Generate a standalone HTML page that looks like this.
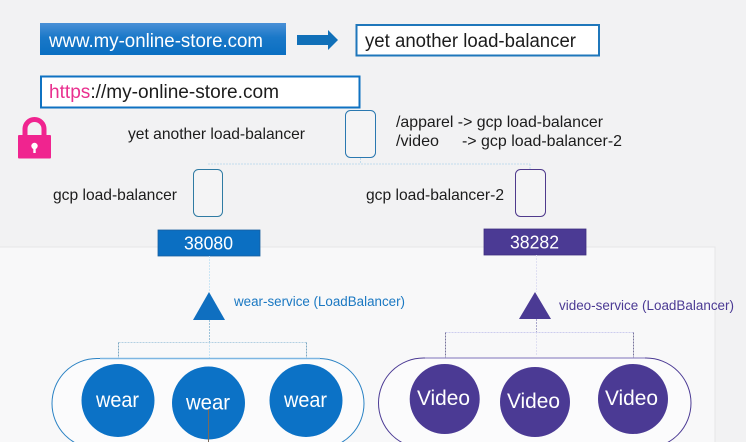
<!DOCTYPE html>
<html>
<head>
<meta charset="utf-8">
<style>
html,body{margin:0;padding:0;background:#f2f2f3;width:746px;height:442px;overflow:hidden}
svg{display:block;filter:blur(0.3px)}
text{font-family:"Liberation Sans",sans-serif;fill:#1c1c1c}
</style>
</head>
<body>
<svg width="746" height="442" viewBox="0 0 746 442" xmlns="http://www.w3.org/2000/svg">
<defs>
<linearGradient id="bn" x1="0" y1="0" x2="0" y2="1"><stop offset="0" stop-color="#4a90d6"/><stop offset="0.45" stop-color="#1a78c8"/><stop offset="1" stop-color="#0a6fc2"/></linearGradient>
</defs>
<rect width="746" height="442" fill="#f2f2f3"/>
<!-- panel -->
<rect x="-2" y="247" width="717" height="200" fill="#f8f8f9" stroke="#e6e6e7" stroke-width="1"/>

<!-- top row -->
<rect x="40" y="23" width="246" height="32" fill="url(#bn)"/>
<text x="49" y="47" font-size="19" textLength="214" lengthAdjust="spacingAndGlyphs" style="fill:#fff">www.my-online-store.com</text>
<polygon points="297,35 328,35 328,30 338,40 328,50 328,45 297,45" fill="#1170b8"/>
<rect x="356.500" y="25" width="242.500" height="30.500" fill="#fff" stroke="#1f77bb" stroke-width="2"/>
<text x="365" y="47" font-size="19" textLength="211" lengthAdjust="spacingAndGlyphs">yet another load-balancer</text>

<!-- https -->
<rect x="41" y="76.500" width="318.500" height="31" fill="#fff" stroke="#0f72c2" stroke-width="2"/>
<text x="49" y="98" font-size="19" textLength="230" lengthAdjust="spacingAndGlyphs"><tspan style="fill:#e9308f">https</tspan>://my-online-store.com</text>

<!-- lock -->
<path d="M25 136 V129 A9.500 9.500 0 0 1 44 129 V136" fill="none" stroke="#f0248f" stroke-width="5"/>
<rect x="18" y="135" width="33" height="23.500" rx="1" fill="#f0248f"/>
<circle cx="34.500" cy="146" r="3.200" fill="#fff"/>
<rect x="33.300" y="147" width="2.400" height="6" fill="#fff"/>

<!-- labels top -->
<text x="128" y="139" font-size="16" textLength="177" lengthAdjust="spacingAndGlyphs">yet another load-balancer</text>
<rect x="345.500" y="110.500" width="30" height="47" rx="5" fill="#f4f4f5" stroke="#2a78b0" stroke-width="1"/>
<text x="396" y="127" font-size="16" textLength="207" lengthAdjust="spacingAndGlyphs">/apparel -&gt; gcp load-balancer</text>
<text x="396" y="146" font-size="16" textLength="43" lengthAdjust="spacingAndGlyphs">/video</text>
<text x="462" y="146" font-size="16" textLength="160" lengthAdjust="spacingAndGlyphs">-&gt; gcp load-balancer-2</text>

<!-- top connector -->
<path d="M208 164 H530 M360.500 158 V164 M530 164 V169" fill="none" stroke="#c3dcec" stroke-width="1" stroke-dasharray="2 1"/>

<!-- gcp lbs -->
<text x="53" y="200" font-size="16" textLength="124" lengthAdjust="spacingAndGlyphs">gcp load-balancer</text>
<rect x="193.500" y="169.500" width="29" height="47" rx="5" fill="#f4f4f5" stroke="#2f7ba3" stroke-width="1"/>
<text x="366" y="200" font-size="16" textLength="138" lengthAdjust="spacingAndGlyphs">gcp load-balancer-2</text>
<rect x="515.500" y="169.500" width="30" height="47" rx="5" fill="#f4f4f5" stroke="#4f3a8c" stroke-width="1"/>

<!-- ports -->
<rect x="158" y="230" width="102" height="26" fill="#0b6fc2" stroke="#1a5f9e" stroke-width="0.8"/>
<text x="184" y="249.500" font-size="18" textLength="49" lengthAdjust="spacingAndGlyphs" style="fill:#fff">38080</text>
<rect x="484" y="229" width="102" height="26" fill="#4b3a94" stroke="#3f2f80" stroke-width="0.8"/>
<text x="510" y="248.500" font-size="18" textLength="49" lengthAdjust="spacingAndGlyphs" style="fill:#fff">38282</text>

<!-- connectors blue -->
<path d="M209.500 256 V292 M209.500 342 V366" fill="none" stroke="#cbe6f5" stroke-width="1" stroke-dasharray="2 1"/>
<path d="M118.500 342.500 H306.500" fill="none" stroke="#b3d0e2" stroke-width="1" stroke-dasharray="2 1"/>
<path d="M118.500 342.500 V365 M306.500 342.500 V365" fill="none" stroke="#7da8c2" stroke-width="1" stroke-dasharray="2 1"/>
<path d="M209.500 320 V342" fill="none" stroke="#9dc3da" stroke-width="1" stroke-dasharray="2 1"/>
<!-- connectors purple -->
<path d="M536.500 255 V292 M536.500 332 V356" fill="none" stroke="#e0e0f2" stroke-width="1" stroke-dasharray="2 1"/>
<path d="M445.500 332.500 H633.500" fill="none" stroke="#cdcdee" stroke-width="1" stroke-dasharray="2 1"/>
<path d="M445.500 332.500 V365 M633.500 332.500 V365" fill="none" stroke="#77749c" stroke-width="1" stroke-dasharray="2 1"/>
<path d="M536.500 319 V332" fill="none" stroke="#aaa8cc" stroke-width="1" stroke-dasharray="2 1"/>

<!-- triangles -->
<polygon points="209,292 225,320 193,320" fill="#0f6fc0"/>
<polygon points="535,292 551,319 519,319" fill="#4b3a94"/>
<text x="234" y="306" font-size="13.500" textLength="171" lengthAdjust="spacingAndGlyphs" style="fill:#1a78c2">wear-service (LoadBalancer)</text>
<text x="559" y="310" font-size="13.500" textLength="175" lengthAdjust="spacingAndGlyphs" style="fill:#4b3a94">video-service (LoadBalancer)</text>

<!-- pills -->
<rect x="52" y="358.500" width="312" height="90" rx="45" fill="#fbfbfc" stroke="#2a82c4" stroke-width="1"/>
<path d="M100 358.500 H320" stroke="#7db6e2" stroke-width="1.500" fill="none"/>
<rect x="378.500" y="358" width="312.500" height="90" rx="45" fill="#fbfbfc" stroke="#4b3a94" stroke-width="1"/>
<path d="M425 358 H645" stroke="#a79fd0" stroke-width="1.500" fill="none"/>

<!-- wear -->
<circle cx="118" cy="400.500" r="36.500" fill="#0c72c6"/>
<circle cx="208.500" cy="403" r="36.500" fill="#0c72c6"/>
<circle cx="306" cy="400.500" r="36.500" fill="#0c72c6"/>
<path d="M208.500 408 V442" stroke="#7a6a5a" stroke-width="1"/>
<text x="96" y="407" font-size="21" textLength="43" lengthAdjust="spacingAndGlyphs" style="fill:#fff">wear</text>
<text x="186" y="409.500" font-size="21" textLength="44" lengthAdjust="spacingAndGlyphs" style="fill:#fff">wear</text>
<text x="284" y="407" font-size="21" textLength="43" lengthAdjust="spacingAndGlyphs" style="fill:#fff">wear</text>

<!-- video -->
<circle cx="444.700" cy="399" r="35" fill="#4b3a94"/>
<circle cx="535" cy="402" r="35" fill="#4b3a94"/>
<circle cx="633" cy="399" r="35" fill="#4b3a94"/>
<text x="417" y="405" font-size="21" textLength="53" lengthAdjust="spacingAndGlyphs" style="fill:#fff">Video</text>
<text x="507" y="408" font-size="21" textLength="53" lengthAdjust="spacingAndGlyphs" style="fill:#fff">Video</text>
<text x="605" y="405" font-size="21" textLength="53" lengthAdjust="spacingAndGlyphs" style="fill:#fff">Video</text>
</svg>
</body>
</html>
